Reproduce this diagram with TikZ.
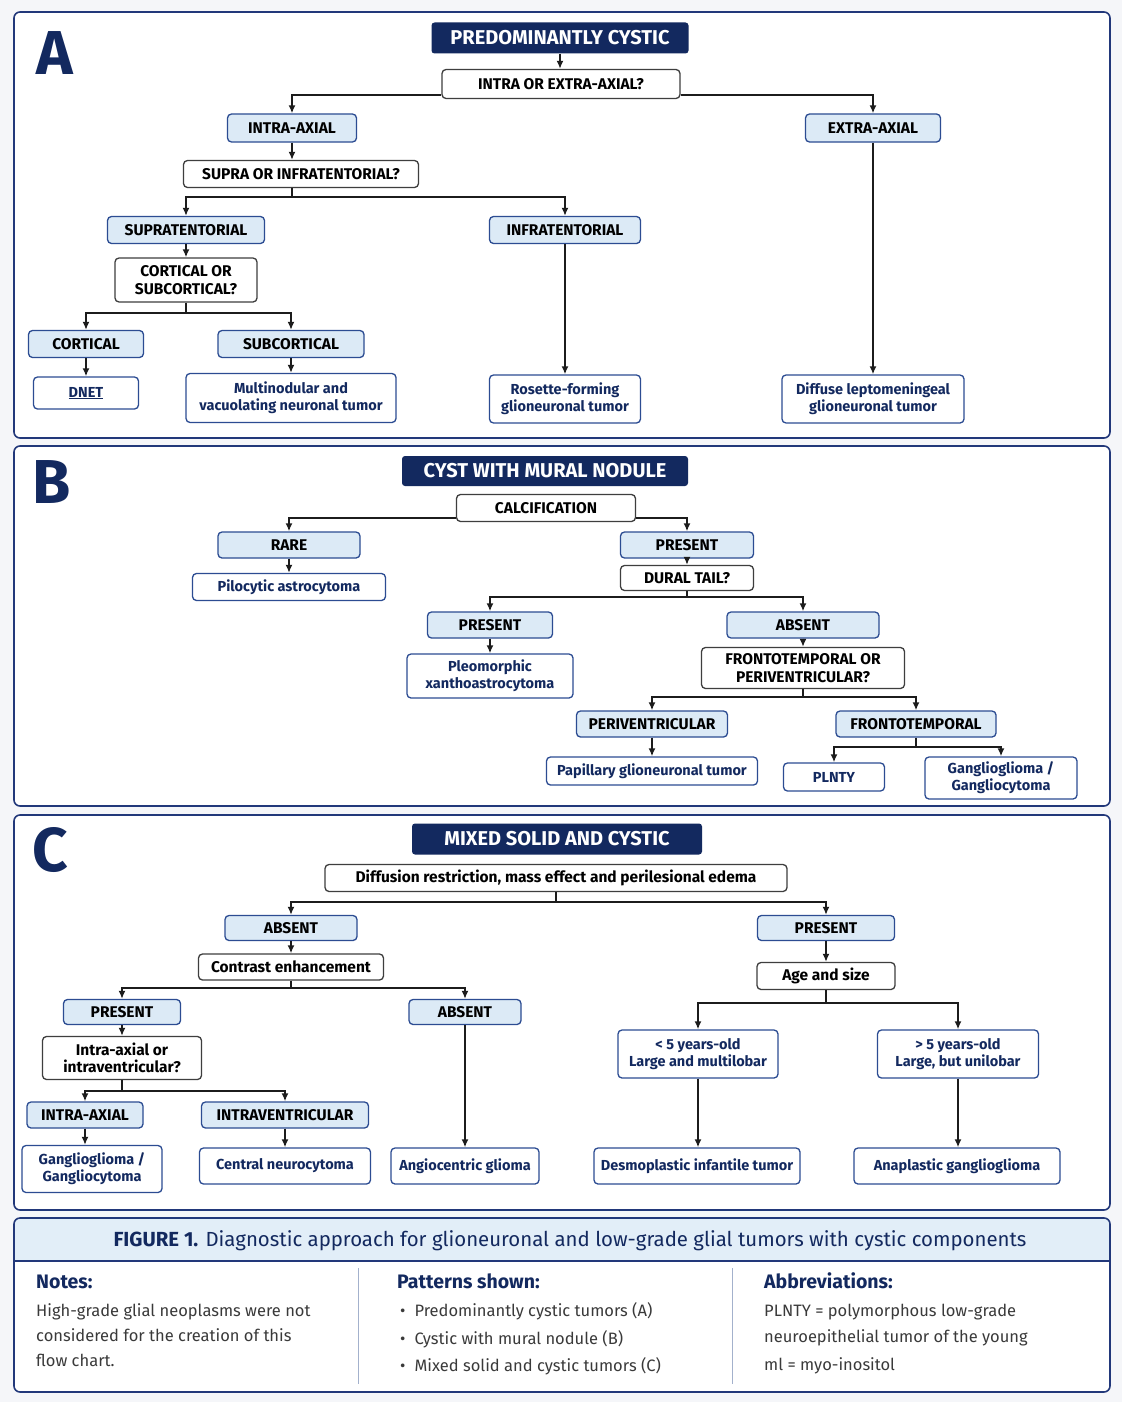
\documentclass[tikz,border=0pt]{standalone}
\usepackage{fontspec}
\setmainfont{Fira Sans}
\usepackage{tikz}
\usetikzlibrary{arrows.meta}

\definecolor{navy}{HTML}{13295F}
\definecolor{bborder}{HTML}{2C4C92}
\definecolor{lightblue}{HTML}{DCEAF6}
\definecolor{pborder}{HTML}{22387A}
\definecolor{bandfill}{HTML}{E2EEF8}
\definecolor{pagebg}{HTML}{F5F6F9}
\definecolor{bodygray}{HTML}{3A3A3A}
\definecolor{divider}{HTML}{A3B1CC}
\definecolor{lineblack}{HTML}{1C1C1C}

\begin{document}
\begin{tikzpicture}[
    x = 1pt, y = -1pt,
    every node/.style = {align = center, inner sep = 2pt},
    head/.style = {rounded corners = 3pt, fill = navy, text = white,
      font = \fontsize{20}{23}\selectfont\bfseries},
    quest/.style = {draw = lineblack!85, line width = 1.3pt, rounded corners = 4pt,
      fill = white, text = black, minimum height = 27pt,
      font = \fontsize{15.5}{17.5}\selectfont\bfseries},
    answ/.style = {quest, draw = bborder, fill = lightblue},
    res/.style = {quest, draw = bborder, text = navy,
      font = \fontsize{14.5}{17}\selectfont\bfseries},
    letter/.style = {anchor = base, text = navy, inner sep = 0pt,
      font = \fontsize{62}{64}\selectfont\bfseries},
    panel/.style = {draw = pborder, line width = 1.6pt, rounded corners = 6pt},
    link/.style = {draw = lineblack, line width = 1.6pt},
    arr/.style = {link, -{Latex[length = 8pt, width = 7pt]}},
    heading/.style = {anchor = base west, inner sep = 0pt, text = navy,
      font = \fontsize{19.5}{22}\selectfont\bfseries},
    body/.style = {anchor = base west, inner sep = 0pt, text = bodygray,
      font = \fontsize{16.5}{19}\selectfont}
    ]
    \useasboundingbox (0,0) rectangle (1122,1402);
    \fill[pagebg] (0,0) rectangle (1122,1402);

    % panels
    \filldraw[panel, fill = white] (14,12) rectangle (1110,438);
    \filldraw[panel, fill = white] (14,446) rectangle (1110,806);
    \filldraw[panel, fill = white] (14,815) rectangle (1110,1210);
    \fill[white, rounded corners = 6pt] (14,1218) rectangle (1110,1392);
    \begin{scope}
      \clip[rounded corners = 6pt] (14,1218) rectangle (1110,1392);
      \fill[bandfill] (14,1218) rectangle (1110,1261);
    \end{scope}
    \draw[panel] (14,1218) rectangle (1110,1392);
    \draw[pborder, line width = 1.2pt] (14,1261) -- (1110,1261);

    \node[letter] (lA) at (55,75) {A};
    \node[letter] (lB) at (52,503) {B};
    \node[letter] (lC) at (50,871) {C};

    % A: predominantly cystic
    \node[head, minimum width = 257pt, minimum height = 31pt] (hA) at (560,38) {PREDOMINANTLY CYSTIC};
    \node[quest, minimum width = 238pt, minimum height = 29pt] (qA) at (561,84) {INTRA OR EXTRA-AXIAL?};
    \node[answ, minimum width = 129pt, minimum height = 28pt] (aIntra) at (292,128) {INTRA-AXIAL};
    \node[answ, minimum width = 135pt, minimum height = 28pt] (aExtra) at (873,128) {EXTRA-AXIAL};
    \node[quest, minimum width = 235pt] (qSup) at (301,174) {SUPRA OR INFRATENTORIAL?};
    \node[answ, minimum width = 157pt] (aSupra) at (186,230) {SUPRATENTORIAL};
    \node[answ, minimum width = 151pt] (aInfra) at (565,230) {INFRATENTORIAL};
    \node[quest, minimum width = 142pt, minimum height = 44pt] (qCort) at (186,280) {CORTICAL OR\\SUBCORTICAL?};
    \node[answ, minimum width = 115pt] (aCort) at (86,344) {CORTICAL};
    \node[answ, minimum width = 146pt] (aSub) at (291,344) {SUBCORTICAL};
    \node[res, minimum width = 105pt, minimum height = 32pt] (rDnet) at (86,393) {\underline{DNET}};
    \node[res, minimum width = 210pt, minimum height = 49pt] (rMvnt) at (291,398) {Multinodular and\\vacuolating neuronal tumor};
    \node[res, minimum width = 151pt, minimum height = 48pt] (rRgnt) at (565,399) {Rosette-forming\\glioneuronal tumor};
    \node[res, minimum width = 182pt, minimum height = 48pt] (rDlgnt) at (873,399) {Diffuse leptomeningeal\\glioneuronal tumor};

    \draw[arr] (hA.south) -- (hA.south|-qA.north);
    \draw[arr] ([yshift = -11pt]qA.west) -| (aIntra);
    \draw[arr] ([yshift = -11pt]qA.east) -| (aExtra);
    \draw[arr] (aIntra.south) -- (aIntra.south|-qSup.north);
    \coordinate (jSup) at (292,197);
    \draw[link] (jSup|-qSup.south) -- (jSup);
    \draw[arr] (jSup) -| (aSupra);
    \draw[arr] (jSup) -| (aInfra);
    \draw[arr] (aSupra) -- (qCort);
    \coordinate (jCort) at (186,313);
    \draw[link] (qCort) -- (jCort);
    \draw[arr] (jCort) -| (aCort);
    \draw[arr] (jCort) -| (aSub);
    \draw[arr] (aCort) -- (rDnet);
    \draw[arr] (aSub) -- (rMvnt);
    \draw[arr] (aInfra) -- (rRgnt);
    \draw[arr] (aExtra) -- (rDlgnt);

    % B: cyst with mural nodule
    \node[head, minimum width = 286pt, minimum height = 30pt] (hB) at (545,471) {CYST WITH MURAL NODULE};
    \node[quest, minimum width = 179pt] (qCalc) at (546,508) {CALCIFICATION};
    \node[answ, minimum width = 142pt, minimum height = 26pt] (aRare) at (289,545) {RARE};
    \node[answ, minimum width = 133pt, minimum height = 26pt] (aPres) at (687,545) {PRESENT};
    \node[res, minimum width = 193pt] (rPilo) at (289,587) {Pilocytic astrocytoma};
    \node[quest, minimum width = 133pt, minimum height = 25pt] (qDural) at (687,578) {DURAL TAIL?};
    \node[answ, minimum width = 125pt, minimum height = 26pt] (aPres2) at (490,625) {PRESENT};
    \node[answ, minimum width = 152pt, minimum height = 26pt] (aAbs) at (803,625) {ABSENT};
    \node[res, minimum width = 166pt, minimum height = 44pt] (rPxa) at (490,676) {Pleomorphic\\xanthoastrocytoma};
    \node[quest, minimum width = 203pt, minimum height = 41pt] (qFront) at (803,668) {FRONTOTEMPORAL OR\\PERIVENTRICULAR?};
    \node[answ, minimum width = 151pt, minimum height = 26pt] (aPeri) at (652,724) {PERIVENTRICULAR};
    \node[answ, minimum width = 160pt, minimum height = 26pt] (aFront) at (916,724) {FRONTOTEMPORAL};
    \node[res, minimum width = 211pt, minimum height = 28pt] (rPgnt) at (652,771) {Papillary glioneuronal tumor};
    \node[res, minimum width = 101pt, minimum height = 28pt] (rPlnty) at (834,777) {PLNTY};
    \node[res, minimum width = 152pt, minimum height = 42pt] (rGg) at (1001,778) {Ganglioglioma /\\Gangliocytoma};

    \draw[arr] ([yshift = -10pt]qCalc.west) -| (aRare);
    \draw[arr] ([yshift = -10pt]qCalc.east) -| (aPres);
    \draw[arr] (aRare) -- (rPilo);
    \draw[arr] (aPres) -- (qDural);
    \coordinate (jDural) at (687,597);
    \draw[link] (qDural) -- (jDural);
    \draw[arr] (jDural) -| (aPres2);
    \draw[arr] (jDural) -| (aAbs);
    \draw[arr] (aPres2) -- (rPxa);
    \draw[arr] (aAbs) -- (qFront);
    \coordinate (jFront) at (803,697);
    \draw[link] (qFront) -- (jFront);
    \draw[arr] (jFront) -| (aPeri);
    \draw[arr] (jFront) -| (aFront);
    \draw[arr] (aPeri) -- (rPgnt);
    \coordinate (jFt) at (916,747);
    \draw[link] (aFront) -- (jFt);
    \draw[arr] (jFt) -| (rPlnty);
    \draw[arr] (jFt) -| (rGg);

    % C: mixed solid and cystic
    \node[head, minimum width = 290pt, minimum height = 31pt] (hC) at (557,839) {MIXED SOLID AND CYSTIC};
    \node[quest, minimum width = 462pt] (qDiff) at (556,878) {Diffusion restriction, mass effect and perilesional edema};
    \node[answ, minimum width = 132pt, minimum height = 25pt] (aAbsC) at (291,928) {ABSENT};
    \node[answ, minimum width = 137pt, minimum height = 25pt] (aPresC) at (826,928) {PRESENT};
    \node[quest, minimum width = 185pt, minimum height = 26pt] (qContr) at (291,967) {Contrast enhancement};
    \node[quest, minimum width = 138pt] (qAge) at (826,976) {Age and size};
    \node[answ, minimum width = 117pt, minimum height = 25pt] (aPresC2) at (122,1012) {PRESENT};
    \node[answ, minimum width = 112pt, minimum height = 25pt] (aAbsC2) at (465,1012) {ABSENT};
    \node[quest, minimum width = 159pt, minimum height = 43pt] (qIntra) at (122,1058) {Intra-axial or\\intraventricular?};
    \node[answ, minimum width = 116pt, minimum height = 26pt] (aIntraC) at (85,1115) {INTRA-AXIAL};
    \node[answ, minimum width = 167pt, minimum height = 26pt] (aIvent) at (285,1115) {INTRAVENTRICULAR};
    \node[res, minimum width = 140pt, minimum height = 47pt] (rGgC) at (92,1169) {Ganglioglioma /\\Gangliocytoma};
    \node[res, minimum width = 171pt, minimum height = 36pt] (rCn) at (285,1166) {Central neurocytoma};
    \node[res, minimum width = 148pt, minimum height = 36pt] (rAng) at (465,1166) {Angiocentric glioma};
    \node[res, minimum width = 160pt, minimum height = 48pt] (rAgeLt) at (698,1054) {< 5 years-old\\Large and multilobar};
    \node[res, minimum width = 161pt, minimum height = 48pt] (rAgeGt) at (958,1054) {> 5 years-old\\Large, but unilobar};
    \node[res, minimum width = 206pt, minimum height = 36pt] (rDit) at (697,1166) {Desmoplastic infantile tumor};
    \node[res, minimum width = 206pt, minimum height = 36pt] (rAga) at (957,1166) {Anaplastic ganglioglioma};

    \coordinate (jDiff) at (556,902);
    \draw[link] (qDiff) -- (jDiff);
    \draw[arr] (jDiff) -| (aAbsC);
    \draw[arr] (jDiff) -| (aPresC);
    \draw[arr] (aAbsC) -- (qContr);
    \draw[arr] (aPresC) -- (qAge);
    \coordinate (jContr) at (291,988);
    \draw[link] (qContr) -- (jContr);
    \draw[arr] (jContr) -| (aPresC2);
    \draw[arr] (jContr) -| (aAbsC2);
    \draw[arr] (aPresC2) -- (qIntra);
    \draw[arr] (aAbsC2) -- (rAng);
    \coordinate (jIntra) at (122,1091);
    \draw[link] (qIntra) -- (jIntra);
    \draw[arr] (jIntra) -| (aIntraC);
    \draw[arr] (jIntra) -| (aIvent);
    \draw[arr] (aIntraC.south) -- (aIntraC.south|-rGgC.north);
    \draw[arr] (aIvent) -- (rCn);
    \coordinate (jAge) at (826,1003);
    \draw[link] (qAge) -- (jAge);
    \draw[arr] (jAge) -| (rAgeLt);
    \draw[arr] (jAge) -| (rAgeGt);
    \draw[arr] (rAgeLt.south) -- (rAgeLt.south|-rDit.north);
    \draw[arr] (rAgeGt.south) -- (rAgeGt.south|-rAga.north);

    % footer
    \node[text = navy, font = \fontsize{20.4}{23}\selectfont] (title) at (570,1241)
      {\textbf{FIGURE 1.} Diagnostic approach for glioneuronal and low-grade glial tumors with cystic components};
    \draw[divider, line width = 1pt] (358,1268) -- (358,1384);
    \draw[divider, line width = 1pt] (732,1268) -- (732,1384);

    \node[heading] (notes) at (36,1288) {Notes:};
    \node[body] (n1) at (36,1316) {High-grade glial neoplasms were not};
    \node[body] (n2) at (36,1341) {considered for the creation of this};
    \node[body] (n3) at (36,1366) {flow chart.};

    \node[heading] (patt) at (397,1288) {Patterns shown:};
    \node[body] (p1) at (397,1316) {\hspace{3pt}•\hspace{9pt}Predominantly cystic tumors (A)};
    \node[body] (p2) at (397,1344) {\hspace{3pt}•\hspace{9pt}Cystic with mural nodule (B)};
    \node[body] (p3) at (397,1371) {\hspace{3pt}•\hspace{9pt}Mixed solid and cystic tumors (C)};

    \node[heading] (abbr) at (764,1288) {Abbreviations:};
    \node[body] (b1) at (764,1316) {PLNTY = polymorphous low-grade};
    \node[body] (b2) at (764,1342) {neuroepithelial tumor of the young};
    \node[body] (b3) at (764,1370) {ml = myo-inositol};
  \end{tikzpicture}
\end{document}
